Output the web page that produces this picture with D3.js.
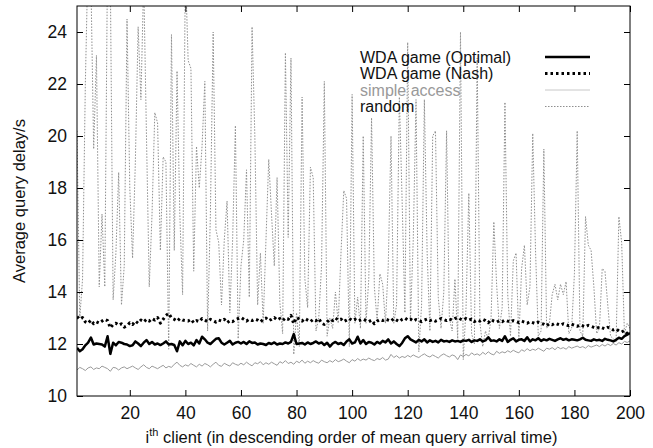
<!DOCTYPE html>
<html>
<head>
<meta charset="utf-8">
<script src="https://cdn.jsdelivr.net/npm/d3@7/dist/d3.min.js"></script>
<style>
  body { margin: 0; background: #fff; }
  svg { display: block; font-family: "Liberation Sans", Arial, sans-serif; }
  .frame { fill: none; stroke: #000; stroke-width: 1; }
  .tick text { font-size: 17.5px; fill: #111; }
  .tick line { stroke: #000; }
</style>
</head>
<body>
<div id="chart"></div>
<script>
// client index 1..200
const clients = d3.range(1, 201);

const optimal = [
  11.85, 11.72, 11.80, 11.95, 12.05, 12.25, 11.98, 12.02, 12.00, 11.98, 11.90, 12.30, 11.62, 12.05, 11.95, 12.08, 12.05, 12.00, 11.98, 11.92,
  11.95, 12.10, 12.02, 11.92, 12.05, 12.15, 12.00, 12.08, 11.98, 12.02, 11.96, 12.02, 12.10, 11.98, 12.00, 11.96, 11.72, 12.10, 11.95, 12.12,
  12.00, 12.05, 11.95, 12.15, 12.02, 12.28, 12.18, 12.05, 12.00, 12.10, 12.20, 12.22, 12.05, 11.98, 12.05, 12.12, 11.98, 12.05, 12.08, 12.02,
  12.08, 12.00, 12.10, 12.04, 12.06, 11.98, 12.02, 12.00, 11.96, 12.04, 12.00, 12.06, 11.98, 12.02, 12.00, 12.06, 12.02, 12.08, 12.38, 12.00,
  12.02, 12.04, 11.98, 12.06, 12.00, 12.04, 12.10, 12.02, 12.06, 11.96, 12.05, 11.90, 12.02, 12.08, 12.00, 12.04, 11.96, 12.10, 12.18, 12.02,
  12.06, 12.28, 12.02, 12.15, 12.00, 12.08, 12.05, 11.98, 12.08, 12.02, 12.12, 12.06, 12.18, 12.02, 12.10, 12.00, 11.92, 12.04, 12.22, 12.30,
  12.18, 12.12, 12.06, 12.16, 12.10, 12.18, 12.06, 12.14, 12.08, 12.12, 12.06, 12.16, 12.10, 12.12, 12.08, 12.14, 12.10, 12.12, 12.08, 12.14,
  12.12, 12.16, 12.08, 12.14, 12.12, 12.18, 12.10, 12.14, 12.26, 12.12, 12.14, 12.10, 12.18, 12.12, 12.30, 12.08, 12.16, 12.22, 12.10, 12.16,
  12.18, 12.12, 12.26, 12.10, 12.18, 12.14, 12.22, 12.12, 12.18, 12.14, 12.20, 12.16, 12.12, 12.18, 12.22, 12.16, 12.20, 12.14, 12.18, 12.16,
  12.14, 12.18, 12.24, 12.16, 12.14, 12.12, 12.18, 12.14, 12.16, 12.12, 12.20, 12.16, 12.14, 12.10, 12.16, 12.24, 12.20, 12.30, 12.36, 12.42
];

const nash = [
  13.05, 12.95, 13.02, 12.85, 12.80, 12.92, 12.78, 12.85, 12.80, 12.88, 12.95, 12.90, 12.62, 12.75, 12.80, 12.72, 12.78, 12.65, 12.70, 12.82,
  12.75, 12.88, 12.80, 12.92, 12.85, 12.95, 12.88, 12.98, 12.92, 13.02, 12.80, 12.95, 13.10, 13.18, 13.00, 12.95, 12.88, 12.98, 12.92, 12.90,
  12.88, 12.95, 12.82, 12.90, 12.86, 12.98, 12.92, 12.86, 12.95, 12.90, 12.84, 12.92, 12.88, 12.95, 12.82, 12.90, 12.86, 12.94, 12.98, 13.02,
  12.95, 12.88, 12.95, 12.90, 12.96, 12.92, 12.85, 12.95, 13.00, 12.90, 12.95, 13.02, 12.92, 12.98, 12.90, 13.00, 12.95, 13.10, 12.78, 13.02,
  12.96, 12.88, 12.98, 12.92, 12.86, 12.95, 12.90, 12.98, 12.80, 12.75, 12.85, 12.95, 12.90, 13.00, 12.92, 12.96, 12.86, 12.92, 12.98, 12.90,
  12.95, 12.88, 12.92, 12.96, 12.90, 12.86, 12.92, 12.78, 12.88, 12.94, 12.90, 12.96, 12.92, 12.88, 12.98, 12.92, 12.86, 12.95, 13.00, 12.92,
  12.96, 12.88, 12.94, 12.90, 12.86, 12.92, 12.96, 12.90, 12.94, 12.88, 12.92, 12.98, 12.94, 12.90, 12.96, 12.92, 12.98, 13.02, 12.96, 12.92,
  12.98, 12.92, 12.96, 12.86, 12.92, 12.88, 12.95, 12.90, 12.82, 12.94, 12.88, 12.84, 12.90, 12.86, 12.92, 12.88, 12.84, 12.90, 12.86, 12.82,
  12.88, 12.84, 12.80, 12.86, 12.82, 12.78, 12.84, 12.80, 12.76, 12.70, 12.78, 12.74, 12.80, 12.76, 12.72, 12.78, 12.74, 12.70, 12.76, 12.72,
  12.68, 12.74, 12.70, 12.66, 12.72, 12.68, 12.64, 12.60, 12.66, 12.62, 12.58, 12.64, 12.60, 12.54, 12.58, 12.50, 12.46, 12.52, 12.40, 12.36
];

const simpleAccess = [
  11.00, 11.10, 11.05, 10.98, 11.08, 11.12, 11.02, 11.08, 11.05, 11.15, 11.10, 11.05, 10.95, 11.10, 11.08, 11.00, 11.08, 11.12, 11.05, 11.10,
  11.15, 11.08, 11.02, 11.12, 11.20, 11.10, 11.05, 11.15, 11.10, 11.05, 11.12, 11.18, 11.08, 11.14, 11.10, 11.22, 11.30, 11.18, 11.12, 11.20,
  11.15, 11.25, 11.18, 11.12, 11.22, 11.15, 11.25, 11.20, 11.12, 11.22, 11.30, 11.18, 11.14, 11.26, 11.20, 11.15, 11.28, 11.22, 11.18, 11.26,
  11.20, 11.30, 11.22, 11.16, 11.28, 11.24, 11.32, 11.20, 11.28, 11.22, 11.30, 11.24, 11.18, 11.32, 11.26, 11.36, 11.25, 11.30, 11.22, 11.34,
  11.28, 11.38, 11.26, 11.34, 11.28, 11.36, 11.30, 11.26, 11.38, 11.32, 11.28, 11.36, 11.30, 11.40, 11.32, 11.36, 11.42, 11.34, 11.28, 11.40,
  11.34, 11.44, 11.36, 11.42, 11.38, 11.46, 11.40, 11.36, 11.44, 11.40, 11.48, 11.38, 11.42, 11.60, 11.48, 11.55, 11.46, 11.52, 11.48, 11.56,
  11.50, 11.58, 11.52, 11.48, 11.56, 11.62, 11.54, 11.50, 11.58, 11.52, 11.46, 11.56, 11.62, 11.55, 11.50, 11.58, 11.54, 11.40, 11.58, 11.52,
  11.60, 11.54, 11.66, 11.58, 11.62, 11.56, 11.68, 11.60, 11.70, 11.62, 11.58, 11.72, 11.64, 11.70, 11.66, 11.74, 11.68, 11.76, 11.70, 11.66,
  11.78, 11.72, 11.82, 11.74, 11.80, 11.76, 11.84, 11.78, 11.72, 11.84, 11.80, 11.86, 11.78, 11.88, 11.82, 11.86, 11.80, 11.90, 11.84, 11.88,
  11.92, 11.86, 11.90, 11.84, 11.94, 11.88, 11.92, 11.96, 11.90, 11.98, 11.92, 12.00, 11.94, 12.02, 11.96, 12.05, 12.00, 12.10, 12.06, 12.12
];

const random = [
  20.2, 13.0, 14.5, 22.0, 27.0, 26.0, 19.5, 23.1, 14.2, 17.0, 14.2, 27.0, 26.0, 13.7, 15.5, 18.6, 13.5, 15.0, 24.5, 18.0,
  15.3, 19.0, 24.2, 21.4, 26.0, 20.0, 14.2, 17.0, 20.9, 20.5, 15.6, 19.2, 19.0, 11.8, 23.9, 15.6, 22.5, 17.0, 13.9, 26.5,
  22.9, 22.6, 14.8, 19.6, 18.0, 19.6, 22.1, 12.5, 17.0, 24.0, 16.4, 15.9, 13.5, 16.0, 17.5, 13.2, 16.0, 20.4, 12.2, 15.0,
  16.0, 18.7, 13.8, 24.2, 20.0, 13.5, 15.5, 12.8, 16.0, 19.1, 17.0, 15.0, 18.4, 13.6, 12.4, 23.2, 16.1, 23.0, 11.6, 13.2,
  11.9, 21.5, 14.5, 13.4, 18.8, 18.4, 12.5, 13.0, 15.0, 22.1, 12.3, 13.0, 12.6, 14.0, 12.8, 15.5, 17.9, 17.6, 11.9, 21.6,
  12.8, 13.8, 12.6, 20.0, 12.8, 14.5, 20.7, 14.2, 12.9, 14.7, 14.3, 12.8, 15.0, 20.0, 12.8, 13.5, 21.5, 17.5, 13.2, 23.6,
  12.9, 16.0, 21.4, 11.7, 13.5, 21.4, 15.5, 12.5, 20.0, 20.2, 13.8, 12.6, 14.0, 20.2, 13.0, 12.5, 14.5, 12.2, 24.0, 11.4,
  13.4, 17.8, 12.4, 12.0, 23.0, 12.8, 11.9, 12.5, 12.2, 13.0, 16.7, 14.3, 12.6, 13.4, 21.3, 13.9, 12.3, 15.2, 15.5, 12.2,
  14.9, 15.8, 13.5, 14.2, 20.1, 15.6, 12.3, 12.5, 19.5, 12.6, 12.8, 13.9, 14.3, 13.7, 14.3, 13.9, 14.4, 12.4, 12.6, 14.7,
  20.2, 12.5, 12.3, 16.9, 15.8, 15.6, 14.2, 12.4, 12.6, 14.9, 14.8, 13.5, 12.3, 12.2, 12.1, 16.9, 15.9, 12.4, 12.8, 12.6
];

const xTicks = [20, 40, 60, 80, 100, 120, 140, 160, 180, 200];
const yTicks = [10, 12, 14, 16, 18, 20, 22, 24];

const seriesNames = ["WDA game (Optimal)", "WDA game (Nash)", "simple access", "random"];

const margin = { top: 6, right: 23, bottom: 52, left: 77 };
const W = 653, H = 448;
const width = W - margin.left - margin.right;
const height = H - margin.top - margin.bottom;

const svg = d3.select("#chart").append("svg")
  .attr("width", W).attr("height", H);

const g = svg.append("g").attr("transform", `translate(${margin.left},${margin.top})`);

const x = d3.scaleLinear().domain([1, 200]).range([0, width]);
const y = d3.scaleLinear().domain([10, 25]).range([height, 0]);

g.append("clipPath").attr("id", "clip")
  .append("rect").attr("width", width).attr("height", height);

// styles per series, in drawing order (random beneath)
const series = [
  { name: seriesNames[3], values: random, stroke: "#8f8f8f", sw: 1, dash: "1.5,1.5", textColor: "#111" },
  { name: seriesNames[2], values: simpleAccess, stroke: "#9a9a9a", sw: 1, dash: null, textColor: "#999" },
  { name: seriesNames[1], values: nash, stroke: "#000", sw: 3, dash: "2.5,3", textColor: "#111" },
  { name: seriesNames[0], values: optimal, stroke: "#000", sw: 2.5, dash: null, textColor: "#111" }
];

const line = d3.line()
  .x((d, i) => x(clients[i]))
  .y(d => y(d));

const plot = g.append("g").attr("clip-path", "url(#clip)");
series.forEach(s => {
  plot.append("path")
    .datum(s.values)
    .attr("fill", "none")
    .attr("stroke", s.stroke)
    .attr("stroke-width", s.sw)
    .attr("stroke-dasharray", s.dash)
    .attr("stroke-linejoin", "round")
    .attr("d", line);
});

// Axes: gnuplot-style inward ticks mirrored on all sides
g.append("g").attr("transform", `translate(0,${height})`)
  .call(d3.axisBottom(x).tickValues(xTicks).tickSize(-6).tickPadding(11))
  .call(a => a.select(".domain").remove());
g.append("g")
  .call(d3.axisTop(x).tickValues(xTicks).tickSize(-6).tickFormat(""))
  .call(a => a.select(".domain").remove());
g.append("g")
  .call(d3.axisLeft(y).tickValues(yTicks).tickSize(-6).tickPadding(10))
  .call(a => a.select(".domain").remove());
g.append("g").attr("transform", `translate(${width},0)`)
  .call(d3.axisRight(y).tickValues(yTicks).tickSize(-6).tickFormat(""))
  .call(a => a.select(".domain").remove());

g.append("rect").attr("class", "frame").attr("width", width).attr("height", height);

// Legend
const legendOrder = [series[3], series[2], series[1], series[0]];
const leg = g.append("g").attr("transform", "translate(283,51)");
legendOrder.forEach((s, i) => {
  const row = leg.append("g").attr("transform", `translate(0,${i * 16.5})`);
  row.append("text")
    .attr("x", 0).attr("y", 0).attr("dy", "0.35em")
    .attr("font-size", 16).attr("fill", s.textColor)
    .text(s.name);
  row.append("line")
    .attr("x1", 185).attr("x2", 230)
    .attr("stroke", s.name === "simple access" ? "#c8c8c8" : s.stroke)
    .attr("stroke-width", s.sw)
    .attr("stroke-dasharray", s.dash);
});

// Axis titles
svg.append("text")
  .attr("transform", `translate(25,${margin.top + height / 2}) rotate(-90)`)
  .attr("text-anchor", "middle")
  .attr("font-size", 16.5).attr("fill", "#111")
  .text("Average query delay/s");

const xt = svg.append("text")
  .attr("x", margin.left + width / 2 - 2).attr("y", 443)
  .attr("text-anchor", "middle")
  .attr("font-size", 16.5).attr("fill", "#111");
xt.append("tspan").text("i");
xt.append("tspan").attr("font-size", 11).attr("dy", -7).text("th");
xt.append("tspan").attr("dy", 7).text(" client (in descending order of mean query arrival time)");
</script>
</body>
</html>
